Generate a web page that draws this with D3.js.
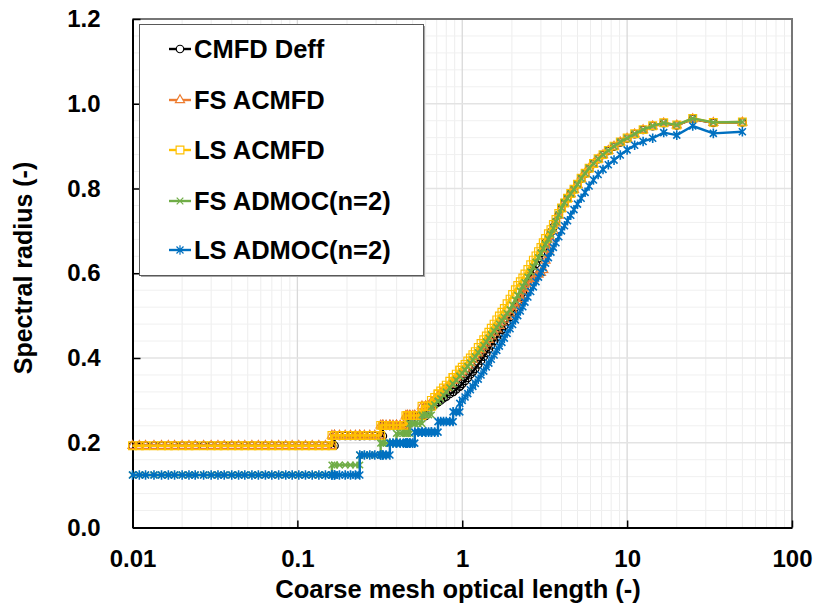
<!DOCTYPE html>
<html>
<head>
<meta charset="utf-8">
<script src="https://cdn.jsdelivr.net/npm/d3@7"></script>
<style>
  body { margin: 0; background: #fff; }
  svg text { font-family: "Liberation Sans", Arial, sans-serif; font-weight: bold; fill: #000; }
</style>
</head>
<body>
<div id="chart"></div>
<script>
// Coarse mesh optical length (shared x column, repeated x = vertical step)
const xValues = [
  0.010, 0.011, 0.012, 0.0135, 0.015, 0.0165, 0.018, 0.020, 0.022, 0.024,
  0.027, 0.030, 0.033, 0.036, 0.040, 0.044, 0.048, 0.053, 0.058, 0.064,
  0.070, 0.077, 0.085, 0.093, 0.102, 0.112, 0.123, 0.135, 0.148, 0.162,
  0.162, 0.168, 0.168, 0.180, 0.195, 0.210, 0.225, 0.239, 0.239, 0.255,
  0.275, 0.295, 0.320, 0.320, 0.330, 0.330, 0.345, 0.364, 0.364, 0.380,
  0.399, 0.399, 0.420, 0.440, 0.455, 0.455, 0.465, 0.465, 0.481, 0.481,
  0.500, 0.515, 0.515, 0.540, 0.570, 0.570, 0.600, 0.600, 0.625, 0.650,
  0.650, 0.680, 0.713, 0.713, 0.740, 0.770, 0.800, 0.840, 0.880, 0.880,
  0.920, 0.966, 0.966, 1.00, 1.04, 1.08, 1.12, 1.16, 1.20, 1.25,
  1.30, 1.35, 1.40, 1.45, 1.50, 1.56, 1.62, 1.68, 1.74, 1.80,
  1.87, 1.95, 2.02, 2.10, 2.17, 2.25, 2.33, 2.40, 2.50, 2.60,
  2.70, 2.80, 2.90, 3.00, 3.10, 3.20, 3.33, 3.45, 3.57, 3.70,
  3.85, 4.00, 4.17, 4.35, 4.55, 4.76, 5.00, 5.26, 5.56, 5.88,
  6.25, 6.67, 7.14, 7.69, 8.33, 9.09, 10.0, 11.11, 12.5, 14.29,
  16.67, 20.0, 25.0, 33.33, 50.0
];

// Spectral radius, one array per method
const cmfdDeff = [
  0.193, 0.193, 0.193, 0.193, 0.193, 0.193, 0.193, 0.193, 0.193, 0.193,
  0.193, 0.193, 0.193, 0.193, 0.193, 0.193, 0.193, 0.193, 0.193, 0.193,
  0.193, 0.193, 0.193, 0.193, 0.193, 0.193, 0.193, 0.193, 0.193, 0.193,
  0.193, 0.193, 0.216, 0.216, 0.216, 0.216, 0.216, 0.216, 0.216, 0.216,
  0.216, 0.216, 0.216, 0.216, 0.216, 0.240, 0.240, 0.240, 0.240, 0.240,
  0.240, 0.240, 0.240, 0.240, 0.240, 0.240, 0.240, 0.263, 0.263, 0.263,
  0.263, 0.263, 0.263, 0.263, 0.263, 0.263, 0.263, 0.284, 0.284, 0.286,
  0.286, 0.290, 0.296, 0.296, 0.300, 0.305, 0.309, 0.315, 0.320, 0.320,
  0.326, 0.333, 0.333, 0.339, 0.346, 0.353, 0.361, 0.368, 0.375, 0.385,
  0.394, 0.403, 0.412, 0.421, 0.430, 0.440, 0.449, 0.458, 0.467, 0.476,
  0.486, 0.497, 0.508, 0.520, 0.532, 0.545, 0.556, 0.567, 0.581, 0.595,
  0.609, 0.622, 0.635, 0.648, 0.660, 0.672, 0.685, 0.697, 0.709, 0.722,
  0.738, 0.753, 0.766, 0.777, 0.788, 0.798, 0.810, 0.823, 0.835, 0.847,
  0.858, 0.869, 0.879, 0.889, 0.899, 0.909, 0.918, 0.928, 0.938, 0.947,
  0.954, 0.949, 0.964, 0.955, 0.956
];

const fsAcmfd = [
  0.193, 0.193, 0.193, 0.193, 0.193, 0.193, 0.193, 0.193, 0.193, 0.193,
  0.193, 0.193, 0.193, 0.193, 0.193, 0.193, 0.193, 0.193, 0.193, 0.193,
  0.193, 0.193, 0.193, 0.193, 0.193, 0.193, 0.193, 0.193, 0.193, 0.193,
  0.217, 0.217, 0.217, 0.217, 0.217, 0.217, 0.217, 0.217, 0.217, 0.217,
  0.217, 0.217, 0.217, 0.241, 0.241, 0.241, 0.241, 0.241, 0.241, 0.241,
  0.241, 0.241, 0.241, 0.241, 0.241, 0.264, 0.264, 0.264, 0.264, 0.264,
  0.264, 0.264, 0.264, 0.264, 0.264, 0.286, 0.286, 0.286, 0.286, 0.286,
  0.296, 0.302, 0.309, 0.309, 0.316, 0.323, 0.329, 0.338, 0.346, 0.346,
  0.354, 0.362, 0.362, 0.368, 0.375, 0.382, 0.389, 0.396, 0.403, 0.411,
  0.419, 0.427, 0.435, 0.443, 0.451, 0.460, 0.468, 0.476, 0.484, 0.491,
  0.498, 0.505, 0.513, 0.522, 0.531, 0.540, 0.548, 0.557, 0.567, 0.578,
  0.586, 0.592, 0.597, 0.601, 0.608, 0.630, 0.656, 0.680, 0.700, 0.718,
  0.736, 0.752, 0.765, 0.776, 0.787, 0.797, 0.809, 0.823, 0.835, 0.847,
  0.858, 0.869, 0.879, 0.889, 0.899, 0.909, 0.918, 0.928, 0.938, 0.947,
  0.954, 0.949, 0.964, 0.955, 0.956
];

const lsAcmfd = [
  0.193, 0.193, 0.193, 0.193, 0.193, 0.193, 0.193, 0.193, 0.193, 0.193,
  0.193, 0.193, 0.193, 0.193, 0.193, 0.193, 0.193, 0.193, 0.193, 0.193,
  0.193, 0.193, 0.193, 0.193, 0.193, 0.193, 0.193, 0.193, 0.193, 0.193,
  0.217, 0.217, 0.217, 0.217, 0.217, 0.217, 0.217, 0.217, 0.217, 0.217,
  0.217, 0.217, 0.217, 0.241, 0.241, 0.241, 0.241, 0.241, 0.241, 0.241,
  0.241, 0.241, 0.241, 0.241, 0.241, 0.264, 0.264, 0.264, 0.264, 0.264,
  0.264, 0.264, 0.264, 0.264, 0.264, 0.286, 0.286, 0.286, 0.286, 0.286,
  0.300, 0.307, 0.315, 0.315, 0.322, 0.329, 0.336, 0.345, 0.354, 0.354,
  0.362, 0.371, 0.371, 0.378, 0.385, 0.393, 0.400, 0.408, 0.415, 0.425,
  0.434, 0.443, 0.452, 0.461, 0.470, 0.480, 0.490, 0.499, 0.508, 0.517,
  0.528, 0.539, 0.550, 0.561, 0.571, 0.580, 0.589, 0.598, 0.609, 0.620,
  0.631, 0.641, 0.651, 0.661, 0.672, 0.682, 0.693, 0.703, 0.715, 0.727,
  0.741, 0.754, 0.766, 0.777, 0.788, 0.798, 0.810, 0.824, 0.836, 0.848,
  0.859, 0.870, 0.880, 0.890, 0.900, 0.910, 0.919, 0.929, 0.939, 0.948,
  0.955, 0.950, 0.9655, 0.956, 0.957
];

const fsAdmoc = [
  0.124, 0.124, 0.124, 0.124, 0.124, 0.124, 0.124, 0.124, 0.124, 0.124,
  0.124, 0.124, 0.124, 0.124, 0.124, 0.124, 0.124, 0.124, 0.124, 0.124,
  0.124, 0.124, 0.124, 0.124, 0.124, 0.124, 0.124, 0.124, 0.124, 0.124,
  0.1475, 0.1475, 0.1475, 0.1475, 0.1475, 0.1475, 0.1475, 0.1475, 0.171, 0.171,
  0.171, 0.171, 0.171, 0.199, 0.199, 0.199, 0.199, 0.199, 0.199, 0.199,
  0.199, 0.222, 0.222, 0.222, 0.222, 0.222, 0.222, 0.222, 0.222, 0.245,
  0.245, 0.245, 0.245, 0.245, 0.245, 0.2655, 0.2655, 0.2655, 0.2655, 0.2655,
  0.285, 0.290, 0.298, 0.298, 0.304, 0.312, 0.320, 0.330, 0.339, 0.339,
  0.348, 0.357, 0.357, 0.364, 0.372, 0.380, 0.388, 0.396, 0.403, 0.413,
  0.421, 0.430, 0.438, 0.447, 0.455, 0.464, 0.472, 0.480, 0.488, 0.496,
  0.505, 0.514, 0.525, 0.537, 0.548, 0.558, 0.569, 0.578, 0.591, 0.603,
  0.615, 0.626, 0.637, 0.648, 0.658, 0.668, 0.680, 0.692, 0.706, 0.722,
  0.738, 0.754, 0.767, 0.777, 0.788, 0.798, 0.810, 0.824, 0.836, 0.848,
  0.859, 0.870, 0.880, 0.890, 0.900, 0.910, 0.919, 0.929, 0.939, 0.948,
  0.955, 0.950, 0.9655, 0.956, 0.957
];

const lsAdmoc = [
  0.124, 0.124, 0.124, 0.124, 0.124, 0.124, 0.124, 0.124, 0.124, 0.124,
  0.124, 0.124, 0.124, 0.124, 0.124, 0.124, 0.124, 0.124, 0.124, 0.124,
  0.124, 0.124, 0.124, 0.124, 0.124, 0.124, 0.124, 0.124, 0.124, 0.124,
  0.124, 0.124, 0.124, 0.124, 0.124, 0.124, 0.124, 0.124, 0.171, 0.171,
  0.171, 0.171, 0.171, 0.171, 0.171, 0.171, 0.171, 0.171, 0.199, 0.199,
  0.199, 0.199, 0.199, 0.199, 0.199, 0.199, 0.199, 0.199, 0.199, 0.199,
  0.199, 0.199, 0.225, 0.225, 0.225, 0.225, 0.225, 0.225, 0.225, 0.225,
  0.225, 0.225, 0.225, 0.250, 0.250, 0.250, 0.250, 0.250, 0.250, 0.273,
  0.273, 0.273, 0.293, 0.300, 0.308, 0.316, 0.325, 0.333, 0.340, 0.350,
  0.360, 0.369, 0.379, 0.388, 0.397, 0.407, 0.418, 0.428, 0.437, 0.447,
  0.458, 0.469, 0.479, 0.490, 0.500, 0.511, 0.521, 0.532, 0.544, 0.557,
  0.568, 0.580, 0.591, 0.602, 0.613, 0.624, 0.637, 0.650, 0.661, 0.672,
  0.686, 0.700, 0.712, 0.724, 0.737, 0.750, 0.763, 0.777, 0.791, 0.806,
  0.820, 0.833, 0.845, 0.856, 0.867, 0.879, 0.891, 0.902, 0.911, 0.9185,
  0.932, 0.926, 0.9475, 0.930, 0.934
];

const seriesNames = ["CMFD Deff", "FS ACMFD", "LS ACMFD", "FS ADMOC(n=2)", "LS ADMOC(n=2)"];
const xTickValues = [0.01, 0.1, 1, 10, 100];
const yTickValues = [0, 0.2, 0.4, 0.6, 0.8, 1.0, 1.2];

// styles
const seriesStyle = {
  "CMFD Deff":     { color: "#000000", marker: "circle" },
  "FS ACMFD":      { color: "#ED7D31", marker: "triangle" },
  "LS ACMFD":      { color: "#FFC000", marker: "square" },
  "FS ADMOC(n=2)": { color: "#70AD47", marker: "x" },
  "LS ADMOC(n=2)": { color: "#0070C0", marker: "star" }
};

const width = 818;
const height = 612;
const plot = { left: 132.5, right: 792, top: 19, bottom: 527.5 };

const series = [cmfdDeff, fsAcmfd, lsAcmfd, fsAdmoc, lsAdmoc].map((ys, i) => ({
  name: seriesNames[i],
  points: xValues.map((x, j) => ({ x, y: ys[j] })).filter(p => p.y != null)
}));

const svg = d3.select("#chart").append("svg")
  .attr("width", width)
  .attr("height", height);

svg.append("rect").attr("width", width).attr("height", height).attr("fill", "#fff");

const x = d3.scaleLog().domain([0.01, 100]).range([plot.left, plot.right]);
const y = d3.scaleLinear().domain([0, 1.2]).range([plot.bottom, plot.top]);

// gridlines
const grid = svg.append("g");
const minorX = [];
[0.01, 0.1, 1, 10].forEach(d => { for (let k = 2; k <= 9; k++) minorX.push(d * k); });
const minorY = d3.range(1, 30).map(i => i * 0.04).filter((v, i) => (i + 1) % 5 !== 0);

grid.selectAll(".gx-minor").data(minorX).enter().append("line")
  .attr("x1", d => x(d)).attr("x2", d => x(d))
  .attr("y1", plot.top).attr("y2", plot.bottom)
  .attr("stroke", "#ededed").attr("stroke-width", 1);
grid.selectAll(".gy-minor").data(minorY).enter().append("line")
  .attr("x1", plot.left).attr("x2", plot.right)
  .attr("y1", d => y(d)).attr("y2", d => y(d))
  .attr("stroke", "#f0f0f0").attr("stroke-width", 1);
grid.selectAll(".gx-major").data([0.1, 1, 10]).enter().append("line")
  .attr("x1", d => x(d)).attr("x2", d => x(d))
  .attr("y1", plot.top).attr("y2", plot.bottom)
  .attr("stroke", "#d9d9d9").attr("stroke-width", 1.3);
grid.selectAll(".gy-major").data([0.2, 0.4, 0.6, 0.8, 1.0]).enter().append("line")
  .attr("x1", plot.left).attr("x2", plot.right)
  .attr("y1", d => y(d)).attr("y2", d => y(d))
  .attr("stroke", "#e3e3e3").attr("stroke-width", 1.5);

// plot border (top / right)
svg.append("path")
  .attr("d", `M${plot.left},${plot.top}H${plot.right}V${plot.bottom}`)
  .attr("fill", "none").attr("stroke", "#767676").attr("stroke-width", 2);

// axes
const xAxis = svg.append("g")
  .attr("transform", `translate(0,${plot.bottom})`)
  .call(d3.axisBottom(x).tickValues(xTickValues)
    .tickFormat(d => String(d))
    .tickSizeInner(-7).tickSizeOuter(0).tickPadding(22));
const yAxis = svg.append("g")
  .attr("transform", `translate(${plot.left},0)`)
  .call(d3.axisLeft(y).tickValues(yTickValues)
    .tickFormat(d3.format(".1f"))
    .tickSizeInner(-8).tickSizeOuter(0).tickPadding(32));

[xAxis, yAxis].forEach(g => {
  g.attr("font-family", null).attr("font-size", null);
  g.select(".domain").attr("stroke", "#000").attr("stroke-width", 2);
  g.selectAll(".tick line").attr("stroke", "#000").attr("stroke-width", 1.5);
  g.selectAll(".tick text").attr("font-size", 24);
});

// axis titles
svg.append("text")
  .attr("x", 458).attr("y", 598)
  .attr("text-anchor", "middle")
  .attr("font-size", 25.5)
  .text("Coarse mesh optical length (-)");
svg.append("text")
  .attr("transform", "translate(32,268) rotate(-90)")
  .attr("text-anchor", "middle")
  .attr("font-size", 25)
  .text("Spectral radius (-)");

// markers
function markerPath(type) {
  if (type === "circle") return d3.symbol(d3.symbolCircle, 44)();
  if (type === "triangle") return d3.symbol(d3.symbolTriangle, 36)();
  if (type === "square") return d3.symbol(d3.symbolSquare, 60)();
  if (type === "x") return "M-3.3,-3.3L3.3,3.3M-3.3,3.3L3.3,-3.3";
  return "M-3.5,-3.5L3.5,3.5M-3.5,3.5L3.5,-3.5M0,-4.8L0,4.8";
}

const line = d3.line().x(d => x(d.x)).y(d => y(d.y));
const seriesG = svg.append("g");

series.forEach(s => {
  const st = seriesStyle[s.name];
  const g = seriesG.append("g");
  g.append("path")
    .attr("d", line(s.points))
    .attr("fill", "none")
    .attr("stroke", st.color)
    .attr("stroke-width", 2.4)
    .attr("stroke-linejoin", "round");
  g.selectAll("path.mk").data(s.points).enter().append("path")
    .attr("class", "mk")
    .attr("transform", d => `translate(${x(d.x)},${y(d.y)})`)
    .attr("d", markerPath(st.marker))
    .attr("fill", "none")
    .attr("stroke", st.color)
    .attr("stroke-width", st.marker === "x" || st.marker === "star" ? 1.6 : 1.2);
});

// legend
const legend = svg.append("g");
legend.append("rect")
  .attr("x", 141).attr("y", 26).attr("width", 284).attr("height", 251)
  .attr("fill", "#a6a6a6");
legend.append("rect")
  .attr("x", 139.5).attr("y", 24.5).attr("width", 284).attr("height", 251)
  .attr("fill", "#fff").attr("stroke", "#595959").attr("stroke-width", 1);

const legendY = [49, 100, 150, 201, 250];
seriesNames.forEach((name, i) => {
  const st = seriesStyle[name];
  const cy = legendY[i];
  legend.append("line")
    .attr("x1", 169).attr("x2", 191).attr("y1", cy).attr("y2", cy)
    .attr("stroke", st.color).attr("stroke-width", 2.4);
  legend.append("path")
    .attr("transform", `translate(180,${cy})`)
    .attr("d", markerPath(st.marker))
    .attr("fill", st.marker === "x" || st.marker === "star" ? "none" : "#fff")
    .attr("stroke", st.color)
    .attr("stroke-width", 1.2);
  legend.append("text")
    .attr("x", 194).attr("y", cy + 9)
    .attr("font-size", 25.5)
    .text(name);
});
</script>
</body>
</html>
